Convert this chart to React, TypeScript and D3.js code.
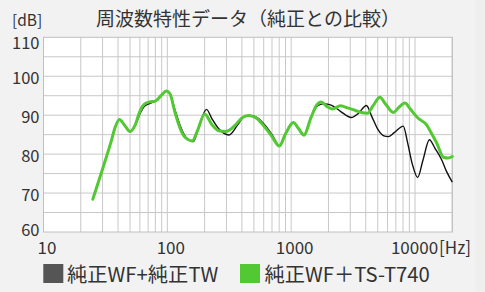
import React from "react";
import * as d3 from "d3";

const title = "周波数特性データ（純正との比較）";
const yUnit = "[dB]";
const xUnit = "[Hz]";
const seriesNames = ["純正WF+純正TW", "純正WF＋TS-T740"];
const seriesColors = ["#555555", "#52c933"];

const yTicks = [60, 70, 80, 90, 100, 110];
const xTicks = [10, 100, 1000, 10000];

// [frequency Hz, dB]
const stockFreq = [25, 30, 35, 38, 41, 45, 50, 55, 60, 65, 72, 80, 90, 98, 105, 115, 128, 140, 162, 180, 207, 230, 260, 315, 370, 420, 470, 530, 620, 700, 810, 900, 1040, 1150, 1270, 1450, 1650, 1850, 2100, 2500, 3060, 3500, 4050, 4500, 5040, 5600, 6070, 6800, 8040, 8700, 9500, 10500, 11600, 13060, 14500, 16440, 18000, 20000];
const stockDb = [68.4, 76.2, 83, 87, 88.9, 87.5, 85.8, 87.3, 90.3, 92.2, 93.0, 93.6, 95.2, 96.2, 95.5, 91.5, 87.0, 84.5, 83.2, 87.0, 91.5, 89.0, 86.5, 84.9, 87.5, 89.7, 89.9, 89.4, 87.3, 85.0, 82.1, 85.0, 88.1, 86.5, 84.8, 89.5, 92.5, 92.9, 92.6, 91.0, 89.4, 90.5, 92.5, 89.5, 86.2, 84.7, 84.5, 85.5, 87.2, 83.0, 77.5, 74.0, 78.5, 83.7, 81.5, 78.5, 75.5, 72.8];

const t740Freq = [25, 30, 35, 38, 41, 45, 50, 55, 60, 65, 72, 80, 90, 98, 105, 115, 128, 140, 159, 175, 200, 230, 260, 296, 350, 400, 450, 520, 600, 700, 802, 900, 1040, 1150, 1265, 1450, 1600, 1750, 1950, 2150, 2500, 2900, 3300, 3700, 4127, 4600, 5200, 5800, 6670, 7400, 8300, 9200, 10600, 12400, 13500, 15000, 16960, 18500, 20000];
const t740Db = [68.4, 76.2, 83, 87, 88.9, 87.5, 85.8, 87.5, 91.0, 92.8, 93.4, 93.6, 95.2, 96.2, 95.5, 90.8, 86.3, 84.2, 83.4, 86.0, 90.3, 87.5, 86.0, 85.8, 87.3, 89.3, 89.9, 89.3, 87.3, 84.5, 82.1, 85.2, 88.1, 86.5, 84.9, 89.5, 92.5, 93.4, 92.2, 91.6, 92.4, 91.8, 91.2, 90.7, 90.5, 92.5, 94.6, 92.8, 90.7, 92.0, 93.1, 91.5, 89.2, 87.5, 85.5, 82.8, 79.2, 79.0, 79.4];

const W = 485;
const H = 292;
const plot = { left: 43.5, right: 452.3, top: 37.3, bottom: 232 };
const font = "'Noto Sans CJK JP', 'Noto Sans', sans-serif";

export default function App() {
  const x = d3.scaleLog().domain([10, 20000]).range([plot.left, plot.right]);
  const y = d3.scaleLinear().domain([60, 110]).range([plot.bottom, plot.top]);

  const vGrid: number[] = [];
  for (let dec = 10; dec <= 10000; dec *= 10) {
    for (let m = 1; m <= 9; m++) {
      const v = dec * m;
      if (v > 10 && v <= 20000) vGrid.push(v);
    }
  }
  vGrid.push(20000);
  const hGrid = d3.range(65, 110, 5);

  const line = d3
    .line<[number, number]>()
    .x((d) => x(d[0]))
    .y((d) => y(d[1]))
    .curve(d3.curveMonotoneX);

  const stock: [number, number][] = stockFreq.map((f, i) => [f, stockDb[i]]);
  const t740: [number, number][] = t740Freq.map((f, i) => [f, t740Db[i]]);

  return (
    <svg
      width={W}
      height={H}
      style={{ position: "fixed", left: 0, top: 0, background: "#f2f2f2", fontFamily: font }}
    >
      <rect x={0} y={0} width={W} height={H} fill="#f2f2f2" />
      <rect x={475} y={0} width={W - 475} height={H} fill="#efefed" />
      <text x={12} y={25.5} fontSize={15.5} fill="#333">{yUnit}</text>
      <text x={248} y={26} fontSize={19} fill="#333" textAnchor="middle">{title}</text>

      <rect
        x={plot.left}
        y={plot.top}
        width={plot.right - plot.left}
        height={plot.bottom - plot.top}
        fill="#ffffff"
      />
      {hGrid.map((v) => (
        <line key={"h" + v} x1={plot.left} x2={plot.right} y1={y(v)} y2={y(v)} stroke="#c8c8c8" strokeWidth={1} />
      ))}
      {vGrid.map((v) => (
        <line key={"v" + v} x1={x(v)} x2={x(v)} y1={plot.top} y2={plot.bottom} stroke="#c8c8c8" strokeWidth={1} />
      ))}
      <rect
        x={plot.left}
        y={plot.top}
        width={plot.right - plot.left}
        height={plot.bottom - plot.top}
        fill="none"
        stroke="#c0c0c0"
        strokeWidth={1}
      />

      {yTicks.map((v) => (
        <text
          key={"yt" + v}
          x={39.5}
          y={Math.min(Math.max(y(v) + 1, 41.5), 229)}
          fontSize={16.5}
          fill="#333"
          textAnchor="end"
          dominantBaseline="central"
        >
          {v}
        </text>
      ))}
      {xTicks.map((v, i) => (
        <text
          key={"xt" + v}
          x={x(v) + (i === xTicks.length - 1 ? -0.5 : 3.5)}
          y={254}
          fontSize={17}
          fill="#333"
          textAnchor="middle"
        >
          {v}
        </text>
      ))}
      <text x={x(10000) - 0.5 + 24.5} y={254} fontSize={17} fill="#333">{xUnit}</text>

      <path d={line(stock) || ""} fill="none" stroke="#111" strokeWidth={1.4} />
      <path d={line(t740) || ""} fill="none" stroke={seriesColors[1]} strokeWidth={3} strokeLinejoin="round" strokeLinecap="round" />

      <rect x={43.3} y={264} width={20} height={19} fill={seriesColors[0]} />
      <text x={67} y={282} fontSize={20.3} fill="#333">{seriesNames[0]}</text>
      <rect x={240} y={264} width={20} height={19} fill={seriesColors[1]} />
      <text x={264.5} y={282} fontSize={20.3} fill="#333">{seriesNames[1]}</text>
    </svg>
  );
}
